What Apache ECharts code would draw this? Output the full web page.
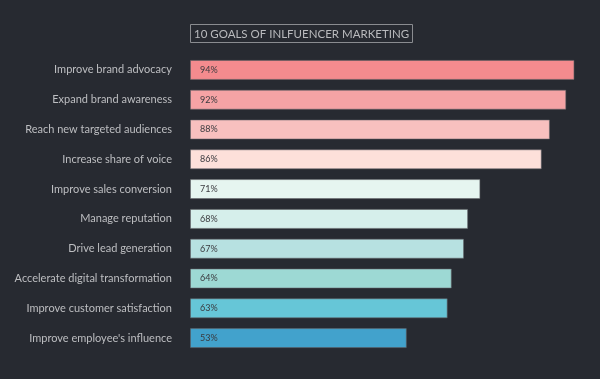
<!DOCTYPE html>
<html>
<head>
<meta charset="utf-8">
<script src="https://cdn.jsdelivr.net/npm/echarts@6/dist/echarts.min.js"></script>
<style>
html,body{margin:0;padding:0;background:#272a31;}
#c{width:600px;height:379px;}
</style>
</head>
<body>
<div id="c"></div>
<script>
const titleText = "10 GOALS OF INLFUENCER MARKETING";
const categories = [
  "Improve brand advocacy",
  "Expand brand awareness",
  "Reach new targeted audiences",
  "Increase share of voice",
  "Improve sales conversion",
  "Manage reputation",
  "Drive lead generation",
  "Accelerate digital transformation",
  "Improve customer satisfaction",
  "Improve employee's influence"
];
const values = [94, 92, 88, 86, 71, 68, 67, 64, 63, 53];
const barColors = ["#f48b8e","#f5a3a5","#f8c0bf","#fde0da","#e6f5f0","#d6efeb","#b7e1e1","#9dd9d4","#66c6d7","#42a2cc"];

const chart = echarts.init(document.getElementById('c'));
chart.setOption({
  backgroundColor: '#272a31',
  animation: false,
  title: {
    text: titleText,
    left: 190,
    top: 24,
    padding: [4, 4, 3, 4],
    borderColor: '#8a8c90',
    borderWidth: 1,
    textStyle: { color: '#b9babd', fontSize: 11.5, fontWeight: 'normal', fontFamily: 'Lato' }
  },
  grid: { left: 190, right: 1, top: 55, bottom: 26, containLabel: false },
  xAxis: {
    type: 'value', min: 0, max: 100,
    show: false
  },
  yAxis: {
    type: 'category',
    data: categories,
    inverse: true,
    axisLine: { show: false },
    axisTick: { show: false },
    axisLabel: {
      color: '#bdbec1', fontSize: 11, fontFamily: 'Lato', margin: 18
    }
  },
  series: [{
    type: 'bar',
    data: values.map((v, i) => ({ value: v, itemStyle: { color: barColors[i] } })),
    barWidth: 20,
    itemStyle: { borderColor: 'rgba(100,100,105,0.55)', borderWidth: 1 },
    label: {
      show: true, position: 'insideLeft', distance: 10,
      formatter: '{c}%', color: '#3a3a3e', fontSize: 9, fontFamily: 'Lato'
    }
  }]
});
</script>
</body>
</html>
